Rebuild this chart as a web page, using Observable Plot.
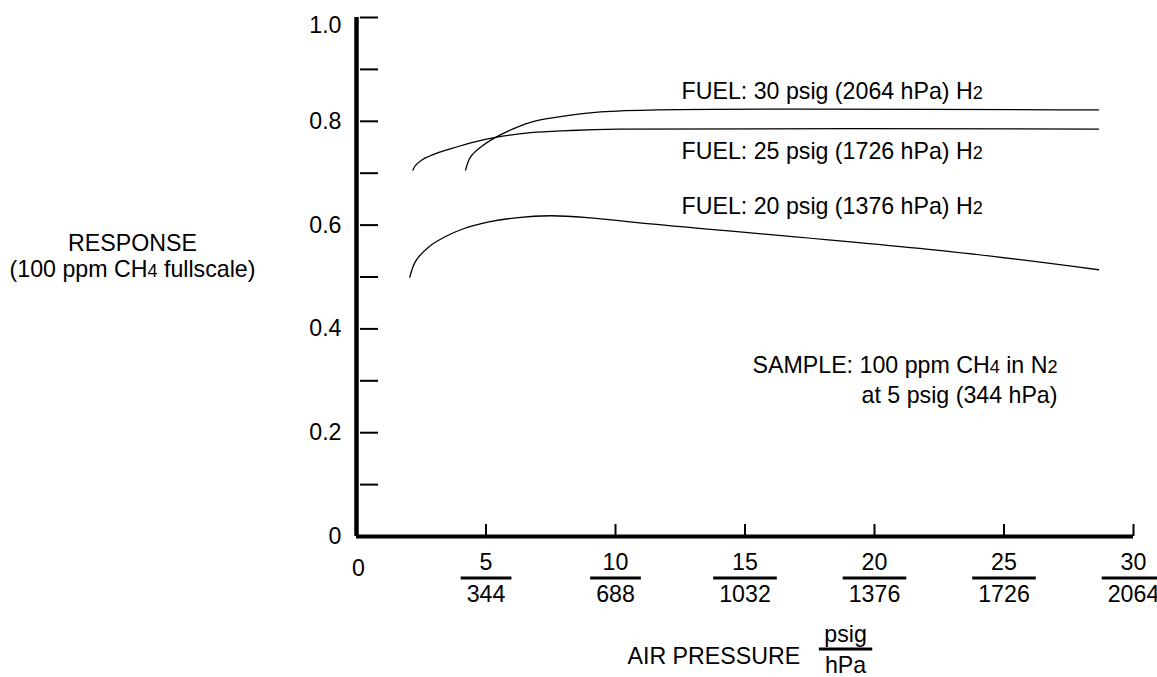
<!DOCTYPE html>
<html><head><meta charset="utf-8">
<script src="https://cdn.jsdelivr.net/npm/d3@7"></script>
<script src="https://cdn.jsdelivr.net/npm/@observablehq/plot@0.6"></script>
<style>
body{margin:0;background:#fff;}
#chart svg{font-family:"Liberation Sans",Arial,Helvetica,sans-serif;}
</style></head><body><div id="chart"></div>
<script>
// ---- data ----
const fuel30Psig = [4.21, 4.40, 4.79, 5.37, 6.07, 6.85, 8.14, 9.42, 11.66, 28.65];
const fuel30Resp = [0.706, 0.731, 0.750, 0.769, 0.786, 0.800, 0.811, 0.818, 0.822, 0.822];
const fuel25Psig = [2.18, 2.28, 2.54, 3.18, 3.50, 4.53, 5.37, 6.72, 8.14, 10.13, 28.65];
const fuel25Resp = [0.706, 0.715, 0.726, 0.740, 0.745, 0.760, 0.769, 0.778, 0.782, 0.785, 0.785];
const fuel20Psig = [2.06, 2.28, 2.79, 3.44, 4.08, 5.11, 6.14, 7.49, 9.03, 11.35, 22.93, 28.65];
const fuel20Resp = [0.500, 0.530, 0.558, 0.578, 0.592, 0.606, 0.614, 0.618, 0.614, 0.6025, 0.549, 0.514];

const fuelLabels = ["FUEL: 30 psig (2064 hPa) H2", "FUEL: 25 psig (1726 hPa) H2", "FUEL: 20 psig (1376 hPa) H2"];
const sampleLines = ["SAMPLE: 100 ppm CH4 in N2", "at 5 psig (344 hPa)"];
const yTitleLines = ["RESPONSE", "(100 ppm CH4 fullscale)"];
const xTitle = "AIR PRESSURE";
const xUnitTop = "psig";
const xUnitBottom = "hPa";

const yTickVals = [0.1, 0.2, 0.3, 0.4, 0.5, 0.6, 0.7, 0.8, 0.9, 1.0];
const yLabelVals = [0, 0.2, 0.4, 0.6, 0.8, 1.0];
const yLabelText = ["0", "0.2", "0.4", "0.6", "0.8", "1.0"];
const xTickPsig = [5, 10, 15, 20, 25, 30];
const xTickHpa = ["344", "688", "1032", "1376", "1726", "2064"];
const xZero = [0];

// ---- build ----
const series = [
  ...fuel30Psig.map((x, i) => ({s: "30", x, y: fuel30Resp[i]})),
  ...fuel25Psig.map((x, i) => ({s: "25", x, y: fuel25Resp[i]})),
  ...fuel20Psig.map((x, i) => ({s: "20", x, y: fuel20Resp[i]}))
];

const FS = 23.2;
const W = 1157, H = 677;
const mL = 356, mR = 24, mT = 17, mB = 141;
const fw = W - mL - mR, fh = H - mT - mB;

const txt = (data, opts) => Plot.text(data, {fontSize: FS, fill: "#000", lineAnchor: "middle", ...opts});

const chart = Plot.plot({
  width: W, height: H,
  marginLeft: mL, marginRight: mR, marginTop: mT, marginBottom: mB,
  x: {domain: [0, 30], axis: null},
  y: {domain: [0, 1], axis: null},
  style: {fontFamily: "Liberation Sans, Arial, sans-serif", fontSize: FS + "px", background: "#fff", overflow: "visible"},
  marks: [
    // axes
    Plot.ruleX([0], {x: d => d, stroke: "#000", strokeWidth: 4.5}),
    Plot.ruleY([0], {y: d => d, stroke: "#000", strokeWidth: 4}),
    Plot.tickY(yTickVals, {y: d => d, stroke: "#000", strokeWidth: 2, insetLeft: 4, insetRight: fw - 22}),
    Plot.tickX(xTickPsig, {x: d => d, stroke: "#000", strokeWidth: 2, insetTop: fh - 12}),
    // curves
    Plot.line(series, {x: "x", y: "y", z: "s", stroke: "#000", strokeWidth: 1.3, curve: "catmull-rom"}),
    // y labels
    txt(yLabelVals.slice(0, 5), {y: d => d, text: (d, i) => yLabelText[i], frameAnchor: "left", textAnchor: "end", dx: -15}),
    txt(yLabelVals.slice(5), {y: d => d, text: (d, i) => yLabelText[5 + i], frameAnchor: "left", textAnchor: "end", dx: -15, dy: 8}),
    // x labels
    txt(xZero, {x: d => d, text: d => String(d), frameAnchor: "bottom", textAnchor: "middle", dx: 2, dy: 32}),
    txt(xTickPsig, {x: d => d, text: d => String(d), frameAnchor: "bottom", textAnchor: "middle", dy: 26}),
    txt(xTickPsig, {x: d => d, text: (d, i) => xTickHpa[i], frameAnchor: "bottom", textAnchor: "middle", dy: 58}),
    // x title
    txt([xTitle], {frameAnchor: "bottom-left", textAnchor: "start", dx: 271, dy: 120}),
    txt([xUnitTop], {frameAnchor: "bottom-left", textAnchor: "middle", dx: 489, dy: 98}),
    txt([xUnitBottom], {frameAnchor: "bottom-left", textAnchor: "middle", dx: 489, dy: 129}),
    // y title
    txt([yTitleLines[0]], {frameAnchor: "top-left", textAnchor: "middle", dx: -224, dy: 226}),
    txt([yTitleLines[1]], {frameAnchor: "top-left", textAnchor: "middle", dx: -224, dy: 252}),
    // curve labels
    txt([fuelLabels[0]], {frameAnchor: "top-left", textAnchor: "start", dx: 325, dy: 74}),
    txt([fuelLabels[1]], {frameAnchor: "top-left", textAnchor: "start", dx: 325, dy: 134}),
    txt([fuelLabels[2]], {frameAnchor: "top-left", textAnchor: "start", dx: 325, dy: 189}),
    // sample note
    txt([sampleLines[0]], {frameAnchor: "top-left", textAnchor: "end", dx: 701, dy: 348}),
    txt([sampleLines[1]], {frameAnchor: "top-left", textAnchor: "end", dx: 701, dy: 378})
  ]
});

document.getElementById("chart").appendChild(chart);

const svg = d3.select(chart);

// chemical-formula digits: smaller, on the baseline
svg.selectAll("text").each(function() {
  if (this.querySelector("tspan")) return;
  const s = this.textContent;
  if (!/[A-Z]\d/.test(s)) return;
  const parts = s.split(/(?<=[A-Z])(\d)/);
  const t = d3.select(this);
  t.text(null);
  parts.forEach((p, i) => {
    if (!p) return;
    const sp = t.append("tspan").text(p);
    if (i % 2 === 1) sp.attr("font-size", "78%");
  });
});

// fraction bars above the denominators (hPa values and unit)
const denoms = new Set([...xTickHpa, xUnitBottom]);
svg.selectAll("text").each(function() {
  if (!denoms.has(this.textContent)) return;
  const b = this.getBBox();
  const y = b.y - 3;
  d3.select(this.parentNode).append("line")
    .attr("x1", b.x - 6).attr("x2", b.x + b.width + 6)
    .attr("y1", y).attr("y2", y)
    .attr("transform", this.getAttribute("transform"))
    .attr("stroke", "#000").attr("stroke-width", 3);
});
</script>
</body></html>
